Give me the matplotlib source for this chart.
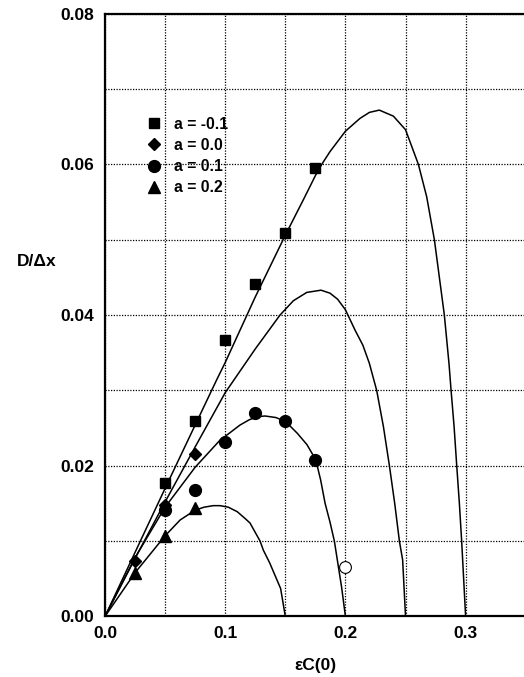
import matplotlib
matplotlib.use("Agg")
import matplotlib.pyplot as plt
from matplotlib.ticker import MultipleLocator, FormatStrFormatter

plt.rcParams['font.family'] = ['Liberation Sans', 'DejaVu Sans']

# curves (one per zero point of eC(0))
curve_a_x = [0, 0.025, 0.05, 0.075, 0.0929, 0.1, 0.125, 0.15, 0.165, 0.175, 0.1803, 0.1872, 0.2,
             0.2121, 0.22, 0.2282, 0.2399, 0.25, 0.2607, 0.2676, 0.274, 0.2823, 0.2862, 0.2879,
             0.2904, 0.2926, 0.2948, 0.2967, 0.3]
curve_a_y = [0, 0.0085, 0.0170, 0.0254, 0.0314, 0.0337, 0.0424, 0.0506, 0.0553, 0.0585, 0.0600, 0.0617,
             0.0644, 0.0661, 0.0669, 0.0672, 0.0664, 0.0646, 0.0600, 0.0557, 0.0500, 0.0400, 0.0335,
             0.0300, 0.0252, 0.0200, 0.0150, 0.0100, 0]

curve_b_x = [0, 0.025, 0.05, 0.075, 0.1, 0.125, 0.1456, 0.1567, 0.1678, 0.1797, 0.1872, 0.1935,
             0.2, 0.208, 0.2145, 0.2199, 0.226, 0.2316, 0.2366, 0.241, 0.2449, 0.2476, 0.25]
curve_b_y = [0, 0.0077, 0.0152, 0.0225, 0.0297, 0.0355, 0.0400, 0.0419, 0.0430, 0.0433, 0.0429, 0.0421,
             0.0407, 0.0380, 0.0360, 0.0336, 0.0300, 0.0252, 0.0200, 0.0150, 0.0100, 0.0075, 0]

curve_c_x = [0, 0.025, 0.05, 0.075, 0.0957, 0.1, 0.1123, 0.12, 0.1265, 0.1331, 0.142, 0.15, 0.16,
             0.168, 0.1753, 0.1794, 0.1831, 0.1872, 0.1908, 0.1968, 0.2]
curve_c_y = [0, 0.0078, 0.0145, 0.0198, 0.0234, 0.0239, 0.0254, 0.0261, 0.0265, 0.0266, 0.0264, 0.0259,
             0.0243, 0.0228, 0.0208, 0.0181, 0.0150, 0.0125, 0.0100, 0.0039, 0]

curve_d_x = [0, 0.025, 0.05, 0.0625, 0.075, 0.0825, 0.09, 0.0957, 0.1025, 0.11, 0.1165, 0.1206,
             0.129, 0.1317, 0.137, 0.1461, 0.15]
curve_d_y = [0, 0.0058, 0.0107, 0.0128, 0.0141, 0.0145, 0.0147, 0.0147, 0.0145, 0.0139, 0.0130, 0.0124,
             0.0100, 0.0088, 0.0071, 0.0037, 0]

# measured points
sq_x = [0.05, 0.075, 0.1, 0.125, 0.15, 0.175]
sq_y = [0.0177, 0.0259, 0.0367, 0.0441, 0.0509, 0.0595]
dia_x = [0.025, 0.05, 0.075]
dia_y = [0.0073, 0.0148, 0.0215]
circ_x = [0.05, 0.075, 0.1, 0.125, 0.15, 0.175]
circ_y = [0.0141, 0.0168, 0.0231, 0.0270, 0.0259, 0.0208]
tri_x = [0.025, 0.05, 0.075]
tri_y = [0.0058, 0.0107, 0.0144]
open_x = [0.2]
open_y = [0.0065]

labels = ['a = -0.1', 'a = 0.0', 'a = 0.1', 'a = 0.2']

fig = plt.figure(figsize=(5.24, 6.77), dpi=100)
ax = fig.add_axes([0.2004, 0.0895, 0.8029, 0.8903])

for cx, cy in [(curve_a_x, curve_a_y), (curve_b_x, curve_b_y),
               (curve_c_x, curve_c_y), (curve_d_x, curve_d_y)]:
    ax.plot(cx, cy, color='black', lw=1.1, zorder=3)

h1, = ax.plot(sq_x, sq_y, 's', color='black', ms=7.5, ls='none', zorder=4)
h2, = ax.plot(dia_x, dia_y, 'D', color='black', ms=6.5, ls='none', zorder=4)
h3, = ax.plot(circ_x, circ_y, 'o', color='black', ms=8.5, ls='none', zorder=4)
h4, = ax.plot(tri_x, tri_y, '^', color='black', ms=8.5, ls='none', zorder=4)
ax.plot(open_x, open_y, 'o', mfc='white', mec='black', mew=0.8, ms=8.5, ls='none', zorder=4)

ax.set_xlim(0, 0.35)
ax.set_ylim(0, 0.08)
ax.xaxis.set_major_locator(MultipleLocator(0.1))
ax.xaxis.set_minor_locator(MultipleLocator(0.05))
ax.yaxis.set_major_locator(MultipleLocator(0.02))
ax.yaxis.set_minor_locator(MultipleLocator(0.01))
ax.xaxis.set_major_formatter(FormatStrFormatter('%.1f'))
ax.yaxis.set_major_formatter(FormatStrFormatter('%.2f'))
ax.tick_params(which='both', length=0, labelsize=12.5)
ax.tick_params(axis='y', pad=8)
ax.tick_params(axis='x', pad=7)
for lab in ax.get_xticklabels() + ax.get_yticklabels():
    lab.set_fontweight('bold')
ax.grid(which='both', color='black', ls=(0, (1, 1.2)), lw=0.9)
ax.set_axisbelow(True)
for s in ['left', 'bottom', 'top']:
    ax.spines[s].set_linewidth(1.6)
ax.spines['right'].set_visible(False)

ax.set_xlabel('εC(0)', fontsize=12.5, fontweight='bold', labelpad=12)
ax.set_ylabel('D/Δx', fontsize=12.5, fontweight='bold', rotation=0, ha='center', va='center')
ax.yaxis.set_label_coords(-0.163, 0.5885)

leg = ax.legend([h1, h2, h3, h4], labels, loc='upper left', bbox_to_anchor=(0.08, 0.8396),
                frameon=False, fontsize=11.3, handletextpad=0.67, labelspacing=0.4,
                handlelength=1.2, borderaxespad=0)
for t in leg.get_texts():
    t.set_fontweight('bold')

fig.savefig('out.png', dpi=100)
